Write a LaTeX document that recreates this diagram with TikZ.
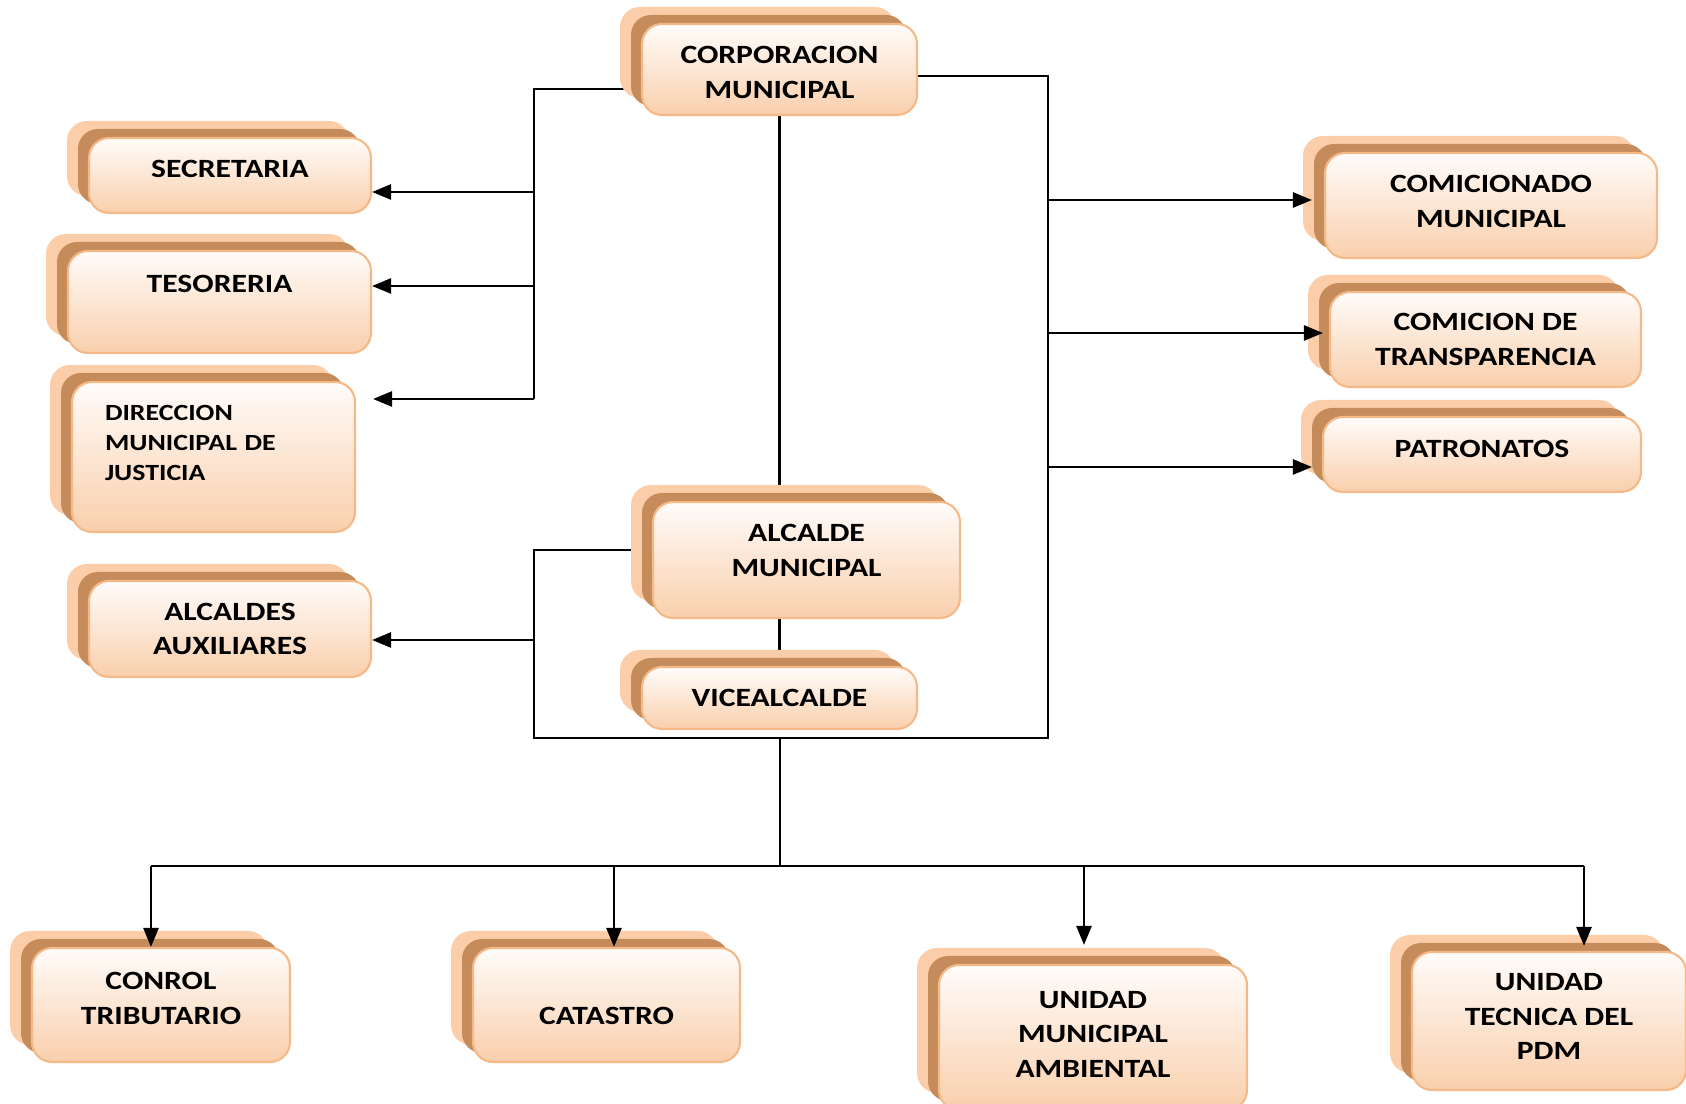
\documentclass[tikz,border=0pt]{standalone}
\usepackage{fontspec}
\setmainfont{Carlito}[FakeStretch=1.2]
\usetikzlibrary{shapes,shadows,arrows.meta,backgrounds}

\definecolor{capaclara}{HTML}{FBCDA8}
\definecolor{capaoscura}{HTML}{C68B5B}
\definecolor{bordecaja}{HTML}{F5B887}
\definecolor{cajaarriba}{HTML}{FFFCFA}
\definecolor{cajaabajo}{HTML}{F9CFAC}

\tikzset{
	caja/.style={rectangle,rounded corners=0.2cm,draw=bordecaja,line width=0.6pt,
		top color=cajaarriba,bottom color=cajaabajo,align=center,
		font=\fontsize{7.5}{9.8}\selectfont\bfseries,
		general shadow={fill=capaclara,shadow xshift=-0.22cm,shadow yshift=0.17cm},
		general shadow={fill=capaoscura,shadow xshift=-0.11cm,shadow yshift=0.09cm}},
	linea/.style={line width=0.75pt},
	flecha/.style={line width=0.75pt,-{Triangle[length=0.19cm,width=0.15cm]}}
}

\begin{document}
\begin{tikzpicture}
	\useasboundingbox (0,0) rectangle (16.86,-11.04);
	
	\node[caja,minimum width=2.75cm,minimum height=0.91cm,text height=16.5pt] (corp)
	at (7.795,-0.695) {CORPORACION\\MUNICIPAL};
	
	\node[caja,minimum width=2.82cm,minimum height=0.75cm,text depth=3.7pt] (secr)
	at (2.30,-1.755) {SECRETARIA};
	\node[caja,minimum width=3.03cm,minimum height=1.02cm,text depth=10.2pt] (teso)
	at (2.195,-3.02) {TESORERIA};
	\node[caja,minimum width=2.83cm,minimum height=1.50cm,align=left,
	text width=2.17cm,inner xsep=0.33cm,text depth=25pt,
	font=\fontsize{6.6}{8.5}\selectfont\bfseries] (dir)
	at (2.135,-4.57) {DIRECCION\\MUNICIPAL DE\\JUSTICIA};
	\node[caja,minimum width=2.82cm,minimum height=0.96cm] (aux)
	at (2.30,-6.29) {ALCALDES\\AUXILIARES};
	
	\node[caja,minimum width=3.07cm,minimum height=1.16cm,text depth=5.6pt] (alc)
	at (8.065,-5.60) {ALCALDE\\MUNICIPAL};
	\node[caja,minimum width=2.75cm,minimum height=0.62cm] (vice)
	at (7.795,-6.98) {VICEALCALDE};
	
	\node[caja,minimum width=3.32cm,minimum height=1.05cm,text depth=2.4pt] (comi)
	at (14.91,-2.055) {COMICIONADO\\MUNICIPAL};
	\node[caja,minimum width=3.11cm,minimum height=0.95cm] (trans)
	at (14.855,-3.395) {COMICION DE\\TRANSPARENCIA};
	\node[caja,minimum width=3.18cm,minimum height=0.75cm,text depth=3pt] (patr)
	at (14.82,-4.545) {PATRONATOS};
	
	\node[caja,minimum width=2.58cm,minimum height=1.14cm,text depth=3.7pt] (trib)
	at (1.61,-10.05) {CONROL\\TRIBUTARIO};
	\node[caja,minimum width=2.67cm,minimum height=1.14cm,text height=11pt] (cat)
	at (6.065,-10.05) {CATASTRO};
	\node[caja,minimum width=3.08cm,minimum height=1.45cm,text depth=1.8pt] (amb)
	at (10.93,-10.375) {UNIDAD\\MUNICIPAL\\AMBIENTAL};
	\node[caja,minimum width=2.74cm,minimum height=1.38cm,text depth=2.4pt] (pdm)
	at (15.49,-10.21) {UNIDAD\\TECNICA DEL\\PDM};
	
	% puntos de las lineas
	\coordinate (izqA) at (5.34,-0.89);
	\coordinate (izqB) at (5.34,-1.92);
	\coordinate (izqC) at (5.34,-2.86);
	\coordinate (izqD) at (5.34,-3.99);
	\coordinate (izqE) at (5.34,-5.50);
	\coordinate (izqF) at (5.34,-6.40);
	\coordinate (izqG) at (5.34,-7.38);
	\coordinate (derA) at (10.48,-0.76);
	\coordinate (derB) at (10.48,-2.00);
	\coordinate (derC) at (10.48,-3.33);
	\coordinate (derD) at (10.48,-4.67);
	\coordinate (derE) at (10.48,-7.38);
	\coordinate (cenA) at (7.80,-7.38);
	\coordinate (cenB) at (7.80,-8.66);
	\coordinate (barA) at (1.51,-8.66);
	\coordinate (barB) at (6.14,-8.66);
	\coordinate (barC) at (10.84,-8.66);
	\coordinate (barD) at (15.84,-8.66);
	
	\begin{scope}[on background layer]
	\draw[linea] (corp.west |- izqA) -- (izqA) -- (izqD);
	\draw[linea] (corp.east |- derA) -- (derA) -- (derE) -- (izqG) -- (izqE) -- (alc.west |- izqE);
	\draw[linea] (corp.south) -- (corp.south |- alc.north);
	\draw[linea] (vice.north) -- (vice.north |- alc.south);
	\draw[linea] (cenA) -- (cenB);
	\draw[linea] (barA) -- (barD);
	\end{scope}
	
	\draw[flecha] (izqB) -- (secr.east |- izqB);
	\draw[flecha] (izqC) -- (teso.east |- izqC);
	\draw[flecha,shorten >=0.17cm] (izqD) -- (dir.east |- izqD);
	\draw[flecha] (izqF) -- (aux.east |- izqF);
	\draw[flecha,shorten >=0.12cm] (derB) -- (comi.west |- derB);
	\draw[flecha,shorten >=0.06cm] (derC) -- (trans.west |- derC);
	\draw[flecha,shorten >=0.10cm] (derD) -- (patr.west |- derD);
	\draw[flecha] (barA) -- (barA |- trib.north);
	\draw[flecha] (barB) -- (barB |- cat.north);
	\draw[flecha,shorten >=0.19cm] (barC) -- (barC |- amb.north);
	\draw[flecha,shorten >=0.05cm] (barD) -- (barD |- pdm.north);
\end{tikzpicture}
\end{document}
